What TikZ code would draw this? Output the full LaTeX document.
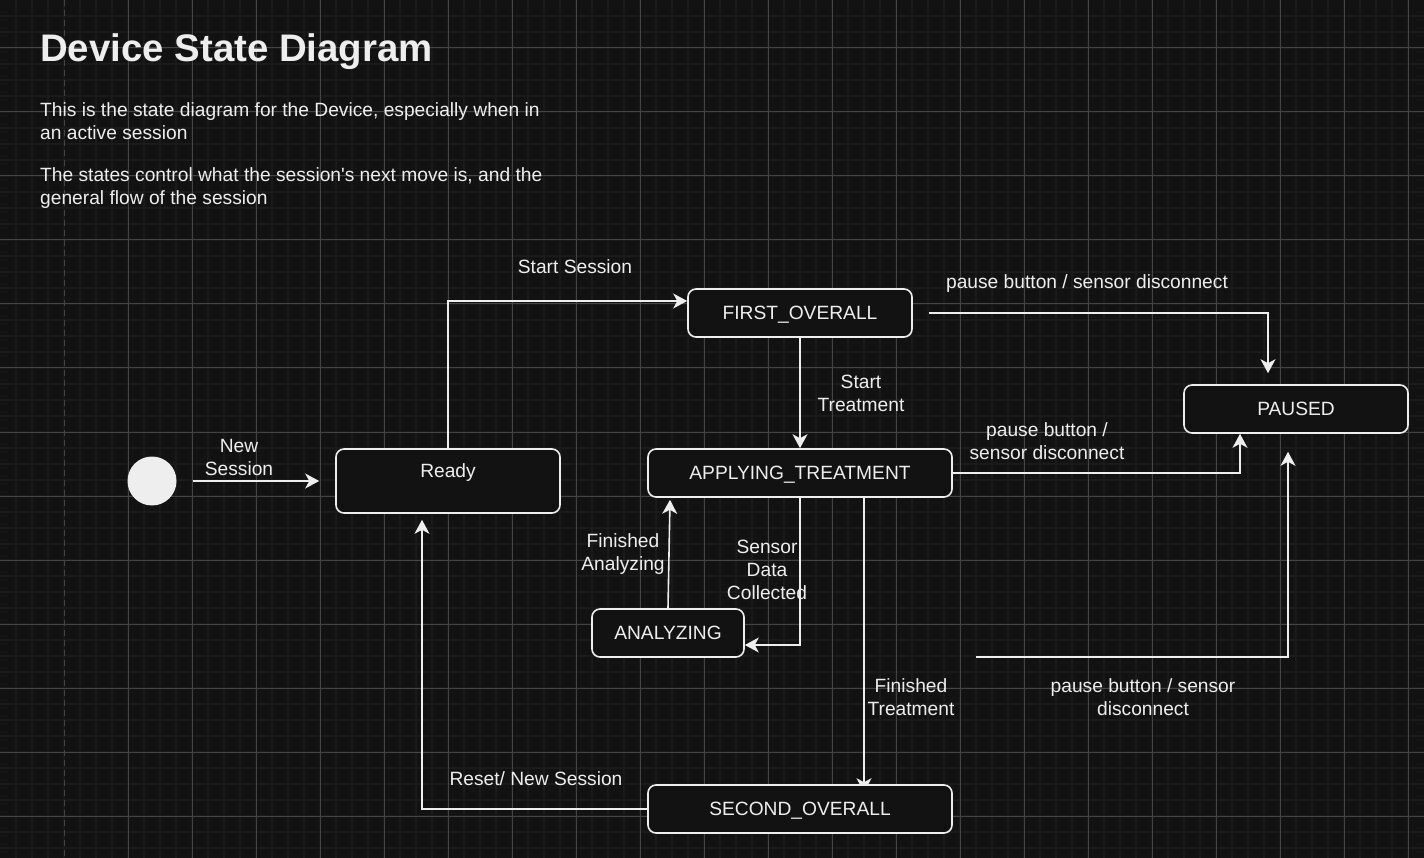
\documentclass[tikz,border=0pt]{standalone}
\usepackage{fontspec}
\setmainfont{Liberation Sans}
\usepackage{tikz}
\usetikzlibrary{arrows.meta}

\definecolor{canvas}{HTML}{121212}
\definecolor{minorline}{HTML}{1B1B1B}
\definecolor{majorline}{HTML}{444444}
\definecolor{ink}{HTML}{EEEEEE}

\pgfdeclarelayer{grid}
\pgfdeclarelayer{behind}
\pgfsetlayers{grid,behind,main}

\tikzset{
    state/.style={draw=ink, line width=1.6pt, fill=canvas, rounded corners=8pt, text=ink, minimum width=224pt, minimum height=48pt, inner sep=0pt, text height=13.75pt, text depth=0pt},
    trans/.style={draw=ink, line width=1.6pt, -{Stealth[length=14pt,width=15pt,inset=4pt]}},
    lbl/.style={text=ink, align=center, inner sep=0pt},
}

\begin{document}
\begin{tikzpicture}[x=1pt, y=-1pt, font=\fontsize{19.2}{23}\selectfont]
    \useasboundingbox (0,0) rectangle (1424,858);

    \begin{pgfonlayer}{grid}
        \fill[canvas] (0,0) rectangle (1424,858);
        \foreach \x in {16,32,...,1408} \draw[minorline, line width=1.5pt] (\x,0) -- (\x,858);
        \foreach \y in {16,32,...,848} \draw[minorline, line width=1.5pt] (0,\y) -- (1424,\y);
        \foreach \x in {128,192,...,1408} \draw[majorline, line width=1pt] (\x,0) -- (\x,858);
        \foreach \y in {48,112,...,816} \draw[majorline, line width=1pt] (0,\y) -- (1424,\y);
        \draw[majorline, line width=1pt, dash pattern=on 6pt off 4pt] (64,0) -- (64,858);
    \end{pgfonlayer}

    \node[anchor=base west, text=ink, inner sep=0pt, font=\fontsize{38.4}{46}\selectfont\bfseries] (title) at (40,62) {Device State Diagram};
    \node[anchor=base west, text=ink, align=left, inner sep=0pt] (introa) at (40,140) {This is the state diagram for the Device, especially when in\\an active session};
    \node[anchor=base west, text=ink, align=left, inner sep=0pt] (introb) at (40,205) {The states control what the session\textquotesingle s next move is, and the\\general flow of the session};

    \node[circle, fill=ink, minimum size=49pt, inner sep=0pt] (init) at (152,481) {};
    \node[state, minimum height=64pt, text depth=20pt] (ready) at (448,481) {Ready};
    \node[state] (first) at (800,313) {FIRST\_OVERALL};
    \node[state] (paused) at (1296,409) {PAUSED};
    \node[state, minimum width=304pt] (apply) at (800,473) {APPLYING\_TREATMENT};
    \node[state, minimum width=152pt] (analyze) at (668,633) {ANALYZING};
    \node[state, minimum width=304pt] (second) at (800,809) {SECOND\_OVERALL};
    \coordinate (pausefree) at (976,657);

    \draw[trans] ([xshift=16pt]init.east) -- ([xshift=-16pt]ready.west);
    \draw[trans] (ready.north) |- ([yshift=12pt]first.west);
    \draw[trans] ([xshift=16pt]first.east) -| ([xshift=-28pt,yshift=11pt]paused.north);
    \draw[trans] (first.south) -- (apply.north);
    \draw[trans] (apply.east) -| ([xshift=-56pt]paused.south);
    \draw[trans] (analyze.north) -- ([xshift=-130pt,yshift=-2pt]apply.south);
    \draw[trans] (apply.south) |- ([yshift=-12pt]analyze.east);
    \begin{pgfonlayer}{behind}
        \draw[trans] ([xshift=64pt]apply.south) -- ([xshift=64pt,yshift=-8pt]second.north);
    \end{pgfonlayer}
    \draw[trans] (second.west) -| ([xshift=-26pt,yshift=-6pt]ready.south);
    \draw[trans] (pausefree) -| ([xshift=-8pt,yshift=-18pt]paused.south);

    \node[lbl] (lblnew) at (239,457) {New\\Session};
    \node[lbl] (lblstart) at (575,267) {Start Session};
    \node[lbl] (lblpausea) at (1087,284) {pause button / sensor disconnect};
    \node[lbl] (lbltreat) at (861,393) {Start\\Treatment};
    \node[lbl] (lblpauseb) at (1047,441) {pause button /\\sensor disconnect};
    \node[lbl] (lbldone) at (623,554) {Finished\\Analyzing};
    \node[lbl] (lblsensor) at (767,570) {Sensor\\Data\\Collected};
    \node[lbl] (lblfinish) at (911,697) {Finished\\Treatment};
    \node[lbl] (lblpausec) at (1143,697) {pause button / sensor\\disconnect};
    \node[lbl] (lblreset) at (536,779) {Reset/ New Session};
\end{tikzpicture}
\end{document}
